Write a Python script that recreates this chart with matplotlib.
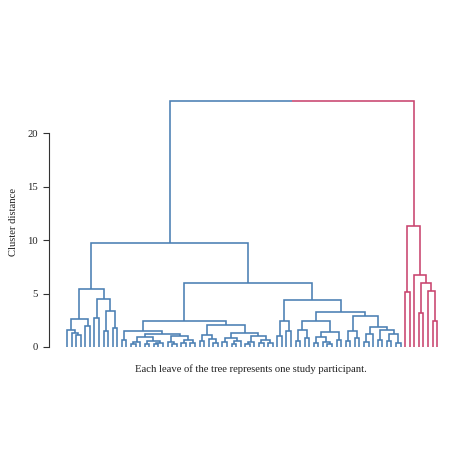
import matplotlib
matplotlib.use("Agg")
import matplotlib.pyplot as plt

L = None  # a leaf (one study participant)

# ---- tree data: each node is (merge height, left subtree, right subtree) ----
blue_left_a = (2.6, (1.6, L, (1.35, L, (1.1, L, L))), (2.0, L, L))
blue_left_b = (4.5, (2.7, L, L), (3.4, (1.45, L, L), (1.75, L, L)))
blue_left = (5.4, blue_left_a, blue_left_b)

mid_left = (1.45, (0.65, L, L),
            (1.25, (0.95, (0.45, (0.25, L, L), L),
                          (0.55, (0.3, L, L), (0.4, (0.25, L, L), L))),
                   (1.0, (0.5, L, (0.3, L, L)),
                         (0.65, (0.35, L, L), (0.4, L, L)))))
mid_right_a = (1.1, (0.55, L, L), (0.75, L, (0.4, L, L)))
mid_right_b = (1.3, (0.85, (0.45, L, L), (0.6, (0.3, L, L), L)),
               (1.05, (0.5, (0.3, L, L), L), (0.7, (0.4, L, L), (0.35, L, L))))
mid = (2.4, mid_left, (2.05, mid_right_a, mid_right_b))

right_left = (2.4, (1.0, L, L), (1.5, L, L))
right_r1 = (2.4, (1.6, (0.6, L, L), (0.8, L, L)),
            (1.4, (0.9, (0.4, L, L), (0.5, L, (0.3, L, L))), (0.7, L, L)))
right_r2 = (2.9, (1.45, (0.6, L, L), (0.8, L, L)),
            (1.9, (1.25, (0.5, L, L), L),
                  (1.6, (0.7, L, L), (1.25, (0.55, L, L), (0.4, L, L)))))
right = (4.4, right_left, (3.3, right_r1, right_r2))

blue_cluster = (9.7, blue_left, (6.0, mid, right))
red_cluster = (11.3, (5.1, L, L),
               (6.7, L, (5.95, (3.15, L, L), (5.2, L, (2.4, L, L)))))
root_height = 23.0

yticks = [0, 5, 10, 15, 20]
ylabel = "Cluster distance"
xlabel = "Each leave of the tree represents one study participant."

BLUE = "#4a7fb3"
RED = "#c9446e"
LW = 1.15

fig = plt.figure(figsize=(4.74, 4.74), dpi=100)
H = 474.0
px_per_unit = 10.7
ymax = 24.0
ax_bottom = 347.0
ax_top = ax_bottom - ymax * px_per_unit
ax_left = 49.0
leaf_dx = 4.57
first_leaf_px = 67.0
xmin = -(first_leaf_px - ax_left) / leaf_dx
ax_right = 455.0
xmax = (ax_right - first_leaf_px) / leaf_dx
ax = fig.add_axes([ax_left / H, 1 - ax_bottom / H, (ax_right - ax_left) / H,
                   (ax_bottom - ax_top) / H])
ax.set_xlim(xmin, xmax)
ax.set_ylim(0, ymax)

counter = [0]


def draw(node, color):
    if node is None:
        x = counter[0]
        counter[0] += 1
        return float(x), 0.0
    h, a, b = node
    xa, ha = draw(a, color)
    xb, hb = draw(b, color)
    ax.plot([xa, xa, xb, xb], [ha, h, h, hb], color=color, lw=LW,
            solid_joinstyle="miter", solid_capstyle="butt", clip_on=False)
    return (xa + xb) / 2.0, h


xb_, hb_ = draw(blue_cluster, BLUE)
xr_, hr_ = draw(red_cluster, RED)
xm = (xb_ + xr_) / 2.0
ax.plot([xb_, xb_, xm], [hb_, root_height, root_height], color=BLUE, lw=LW,
        solid_joinstyle="miter", solid_capstyle="butt", clip_on=False)
ax.plot([xm, xr_, xr_], [root_height, root_height, hr_], color=RED, lw=LW,
        solid_joinstyle="miter", solid_capstyle="butt", clip_on=False)

serif = ["Liberation Serif", "DejaVu Serif"]
for s in ["top", "right", "bottom"]:
    ax.spines[s].set_visible(False)
ax.spines["left"].set_bounds(0, 20)
ax.spines["left"].set_linewidth(0.8)
ax.spines["left"].set_color("#333333")
ax.set_xticks([])
ax.set_yticks(yticks)
ax.set_yticklabels([str(t) for t in yticks], fontfamily=serif, fontsize=7.7)
ax.tick_params(axis="y", length=4, width=0.8, pad=4, colors="#333333",
               labelcolor="#222222")
ax.patch.set_visible(False)

fig.text(14 / H, 1 - 222 / H, ylabel, rotation=90, ha="center", va="center",
         fontfamily=serif, fontsize=7.7, color="#222222")
fig.text(251 / H, 1 - 369 / H, xlabel, ha="center", va="center",
         fontfamily=serif, fontsize=7.7, color="#222222")

fig.savefig("out.png", dpi=100, facecolor="white")
